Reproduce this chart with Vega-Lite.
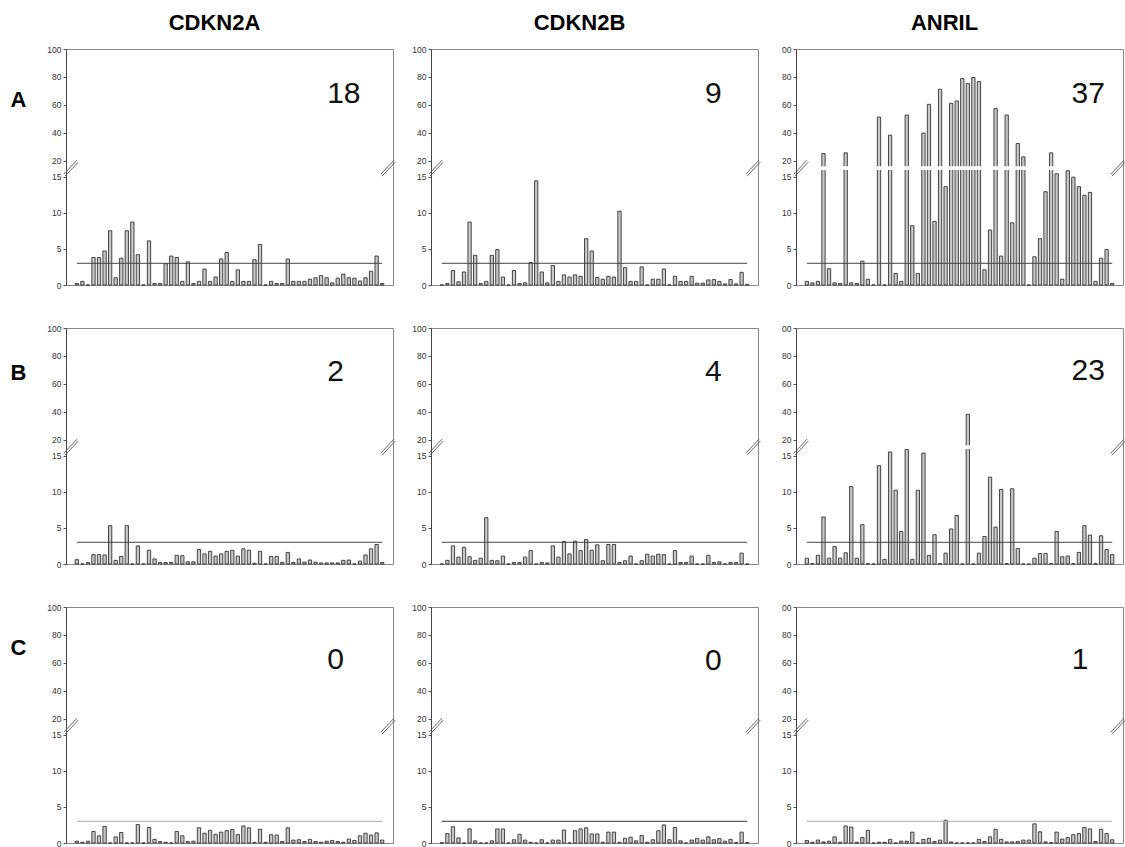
{
"$schema": "https://vega.github.io/schema/vega-lite/v6.json",
"padding": {"left": 9, "top": 11, "right": 0, "bottom": 0},
"background": "white",
"config": {
  "view": {"stroke": "#888", "strokeWidth": 1},
  "font": "Liberation Sans",
  "axisY": {"labelFontSize": 8.5, "labelColor": "#333", "labelFont": "Liberation Sans", "tickSize": 3, "tickColor": "#555", "domainColor": "#444", "grid": false, "labelPadding": 2, "labelOverlap": false},
  "bar": {"width": 3.3, "fill": "#c8c8c8", "stroke": "#333", "strokeWidth": 0.9},
  "rect": {"color": "white", "stroke": null},
  "point": {"color": "#555", "filled": false, "strokeWidth": 0.9, "opacity": 1, "size": 256, "shape": "M-0.9,0.75L0.75,-1M-0.75,1L0.9,-0.75"},
  "text": {"fontSize": 30, "font": "Liberation Sans", "color": "#111", "align": "center", "baseline": "middle"},
  "title": {"fontSize": 22, "fontWeight": "bold", "font": "Liberation Sans", "color": "#000", "offset": 10, "anchor": "middle", "dx": -15}
},
"datasets": {
"A_CDKN2A": [{"i":1,"v":0.2},{"i":2,"v":0.5},{"i":3,"v":0},{"i":4,"v":3.8},{"i":5,"v":3.8},{"i":6,"v":4.7},{"i":7,"v":7.5},{"i":8,"v":1.0},{"i":9,"v":3.7},{"i":10,"v":7.5},{"i":11,"v":8.7},{"i":12,"v":4.2},{"i":13,"v":0},{"i":14,"v":6.1},{"i":15,"v":0.2},{"i":16,"v":0.2},{"i":17,"v":2.95},{"i":18,"v":4.0},{"i":19,"v":3.8},{"i":20,"v":0.5},{"i":21,"v":3.2},{"i":22,"v":0.2},{"i":23,"v":0.5},{"i":24,"v":2.2},{"i":25,"v":0.5},{"i":26,"v":1.1},{"i":27,"v":3.6},{"i":28,"v":4.5},{"i":29,"v":0.5},{"i":30,"v":2.1},{"i":31,"v":0.5},{"i":32,"v":0.5},{"i":33,"v":3.5},{"i":34,"v":5.6},{"i":35,"v":0},{"i":36,"v":0.5},{"i":37,"v":0.2},{"i":38,"v":0.2},{"i":39,"v":3.6},{"i":40,"v":0.5},{"i":41,"v":0.5},{"i":42,"v":0.5},{"i":43,"v":0.8},{"i":44,"v":1.0},{"i":45,"v":1.3},{"i":46,"v":1.0},{"i":47,"v":0.3},{"i":48,"v":0.95},{"i":49,"v":1.5},{"i":50,"v":1.0},{"i":51,"v":0.95},{"i":52,"v":0.55},{"i":53,"v":1.0},{"i":54,"v":1.9},{"i":55,"v":4.0},{"i":56,"v":0.2}],
"A_CDKN2B": [{"i":1,"v":0},{"i":2,"v":0.2},{"i":3,"v":2.0},{"i":4,"v":0.45},{"i":5,"v":1.8},{"i":6,"v":8.7},{"i":7,"v":4.1},{"i":8,"v":0.2},{"i":9,"v":0.5},{"i":10,"v":4.1},{"i":11,"v":4.9},{"i":12,"v":1.1},{"i":13,"v":0},{"i":14,"v":2.0},{"i":15,"v":0.2},{"i":16,"v":0.3},{"i":17,"v":3.1},{"i":18,"v":14.4},{"i":19,"v":1.8},{"i":20,"v":0.3},{"i":21,"v":2.7},{"i":22,"v":0.5},{"i":23,"v":1.4},{"i":24,"v":1.1},{"i":25,"v":1.4},{"i":26,"v":1.2},{"i":27,"v":6.4},{"i":28,"v":4.7},{"i":29,"v":1.05},{"i":30,"v":0.8},{"i":31,"v":1.2},{"i":32,"v":1.1},{"i":33,"v":10.2},{"i":34,"v":2.4},{"i":35,"v":0.5},{"i":36,"v":0.5},{"i":37,"v":2.5},{"i":38,"v":0},{"i":39,"v":0.8},{"i":40,"v":0.8},{"i":41,"v":2.2},{"i":42,"v":0},{"i":43,"v":1.2},{"i":44,"v":0.5},{"i":45,"v":0.5},{"i":46,"v":1.2},{"i":47,"v":0.25},{"i":48,"v":0.25},{"i":49,"v":0.7},{"i":50,"v":0.75},{"i":51,"v":0.5},{"i":52,"v":0.15},{"i":53,"v":0.75},{"i":54,"v":0.15},{"i":55,"v":1.75},{"i":56,"v":0.1}],
"A_ANRIL": [{"i":1,"v":0.5},{"i":2,"v":0.3},{"i":3,"v":0.5},{"i":4,"v":25},{"i":5,"v":2.25},{"i":6,"v":0.3},{"i":7,"v":0.2},{"i":8,"v":25.5},{"i":9,"v":0.3},{"i":10,"v":0.2},{"i":11,"v":3.3},{"i":12,"v":0.8},{"i":13,"v":0},{"i":14,"v":51.2},{"i":15,"v":0},{"i":16,"v":38.2},{"i":17,"v":1.6},{"i":18,"v":0.5},{"i":19,"v":52.6},{"i":20,"v":8.2},{"i":21,"v":1.6},{"i":22,"v":39.7},{"i":23,"v":60.3},{"i":24,"v":8.8},{"i":25,"v":71.1},{"i":26,"v":13.6},{"i":27,"v":61},{"i":28,"v":62.7},{"i":29,"v":78.8},{"i":30,"v":75.2},{"i":31,"v":79.5},{"i":32,"v":76.6},{"i":33,"v":2.1},{"i":34,"v":7.6},{"i":35,"v":57.2},{"i":36,"v":4.0},{"i":37,"v":52.6},{"i":38,"v":8.6},{"i":39,"v":32.2},{"i":40,"v":22.6},{"i":41,"v":0},{"i":42,"v":3.9},{"i":43,"v":6.4},{"i":44,"v":12.9},{"i":45,"v":25.5},{"i":46,"v":15.85},{"i":47,"v":0.8},{"i":48,"v":16.8},{"i":49,"v":14.9},{"i":50,"v":13.6},{"i":51,"v":12.4},{"i":52,"v":12.8},{"i":53,"v":0.5},{"i":54,"v":3.7},{"i":55,"v":4.9},{"i":56,"v":0.2}],
"B_CDKN2A": [{"i":1,"v":0.6},{"i":2,"v":0},{"i":3,"v":0.2},{"i":4,"v":1.3},{"i":5,"v":1.3},{"i":6,"v":1.25},{"i":7,"v":5.3},{"i":8,"v":0.5},{"i":9,"v":1.05},{"i":10,"v":5.3},{"i":11,"v":0},{"i":12,"v":2.5},{"i":13,"v":0},{"i":14,"v":1.9},{"i":15,"v":0.7},{"i":16,"v":0.2},{"i":17,"v":0.2},{"i":18,"v":0.2},{"i":19,"v":1.2},{"i":20,"v":1.15},{"i":21,"v":0.3},{"i":22,"v":0.3},{"i":23,"v":2.0},{"i":24,"v":1.4},{"i":25,"v":1.75},{"i":26,"v":1.1},{"i":27,"v":1.4},{"i":28,"v":1.75},{"i":29,"v":1.9},{"i":30,"v":1.1},{"i":31,"v":2.1},{"i":32,"v":1.9},{"i":33,"v":0.1},{"i":34,"v":1.75},{"i":35,"v":0},{"i":36,"v":1.05},{"i":37,"v":1.05},{"i":38,"v":0.2},{"i":39,"v":1.6},{"i":40,"v":0.2},{"i":41,"v":0.7},{"i":42,"v":0.25},{"i":43,"v":0.55},{"i":44,"v":0.25},{"i":45,"v":0.15},{"i":46,"v":0.15},{"i":47,"v":0.15},{"i":48,"v":0.15},{"i":49,"v":0.5},{"i":50,"v":0.55},{"i":51,"v":0},{"i":52,"v":0.4},{"i":53,"v":1.25},{"i":54,"v":2.1},{"i":55,"v":2.7},{"i":56,"v":0.2}],
"B_CDKN2B": [{"i":1,"v":0},{"i":2,"v":0.5},{"i":3,"v":2.5},{"i":4,"v":0.95},{"i":5,"v":2.3},{"i":6,"v":1.0},{"i":7,"v":0.5},{"i":8,"v":0.8},{"i":9,"v":6.4},{"i":10,"v":0.5},{"i":11,"v":0.45},{"i":12,"v":1.1},{"i":13,"v":0},{"i":14,"v":0.2},{"i":15,"v":0.2},{"i":16,"v":0.95},{"i":17,"v":1.85},{"i":18,"v":0},{"i":19,"v":0.2},{"i":20,"v":0.15},{"i":21,"v":2.5},{"i":22,"v":0.95},{"i":23,"v":3.1},{"i":24,"v":1.4},{"i":25,"v":3.15},{"i":26,"v":1.85},{"i":27,"v":3.4},{"i":28,"v":1.9},{"i":29,"v":2.65},{"i":30,"v":0.45},{"i":31,"v":2.7},{"i":32,"v":2.7},{"i":33,"v":0.2},{"i":34,"v":0.45},{"i":35,"v":1.1},{"i":36,"v":0},{"i":37,"v":0.45},{"i":38,"v":1.35},{"i":39,"v":1.1},{"i":40,"v":1.35},{"i":41,"v":1.3},{"i":42,"v":0},{"i":43,"v":1.85},{"i":44,"v":0.2},{"i":45,"v":0.2},{"i":46,"v":1.1},{"i":47,"v":0},{"i":48,"v":0},{"i":49,"v":1.2},{"i":50,"v":0.2},{"i":51,"v":0.3},{"i":52,"v":0},{"i":53,"v":0.2},{"i":54,"v":0.2},{"i":55,"v":1.5},{"i":56,"v":0}],
"B_ANRIL": [{"i":1,"v":0.8},{"i":2,"v":0.05},{"i":3,"v":1.2},{"i":4,"v":6.5},{"i":5,"v":0.8},{"i":6,"v":2.4},{"i":7,"v":0.8},{"i":8,"v":1.55},{"i":9,"v":10.7},{"i":10,"v":0.8},{"i":11,"v":5.45},{"i":12,"v":0.05},{"i":13,"v":0},{"i":14,"v":13.6},{"i":15,"v":0.65},{"i":16,"v":16.1},{"i":17,"v":10.2},{"i":18,"v":4.5},{"i":19,"v":16.9},{"i":20,"v":0.65},{"i":21,"v":10.2},{"i":22,"v":15.75},{"i":23,"v":1.2},{"i":24,"v":4.05},{"i":25,"v":0.05},{"i":26,"v":1.5},{"i":27,"v":4.85},{"i":28,"v":6.7},{"i":29,"v":0},{"i":30,"v":38.1},{"i":31,"v":0},{"i":32,"v":1.5},{"i":33,"v":3.8},{"i":34,"v":12.0},{"i":35,"v":5.1},{"i":36,"v":10.3},{"i":37,"v":0.05},{"i":38,"v":10.4},{"i":39,"v":2.15},{"i":40,"v":0},{"i":41,"v":0},{"i":42,"v":0.8},{"i":43,"v":1.45},{"i":44,"v":1.45},{"i":45,"v":0.05},{"i":46,"v":4.5},{"i":47,"v":1.0},{"i":48,"v":1.1},{"i":49,"v":0.05},{"i":50,"v":1.6},{"i":51,"v":5.3},{"i":52,"v":4.0},{"i":53,"v":0.05},{"i":54,"v":3.9},{"i":55,"v":2.0},{"i":56,"v":1.3}],
"C_CDKN2A": [{"i":1,"v":0.25},{"i":2,"v":0.1},{"i":3,"v":0.25},{"i":4,"v":1.6},{"i":5,"v":1.0},{"i":6,"v":2.3},{"i":7,"v":0},{"i":8,"v":0.85},{"i":9,"v":1.45},{"i":10,"v":0},{"i":11,"v":0},{"i":12,"v":2.55},{"i":13,"v":0},{"i":14,"v":2.15},{"i":15,"v":0.5},{"i":16,"v":0.2},{"i":17,"v":0.1},{"i":18,"v":0},{"i":19,"v":1.6},{"i":20,"v":1.0},{"i":21,"v":0.2},{"i":22,"v":0.25},{"i":23,"v":2.1},{"i":24,"v":1.35},{"i":25,"v":1.75},{"i":26,"v":1.2},{"i":27,"v":1.5},{"i":28,"v":1.7},{"i":29,"v":1.85},{"i":30,"v":1.15},{"i":31,"v":2.35},{"i":32,"v":2.1},{"i":33,"v":0.1},{"i":34,"v":1.9},{"i":35,"v":0.1},{"i":36,"v":1.15},{"i":37,"v":1.1},{"i":38,"v":0.2},{"i":39,"v":2.1},{"i":40,"v":0.4},{"i":41,"v":0.45},{"i":42,"v":0.2},{"i":43,"v":0.5},{"i":44,"v":0.2},{"i":45,"v":0.1},{"i":46,"v":0.25},{"i":47,"v":0.35},{"i":48,"v":0.2},{"i":49,"v":0.1},{"i":50,"v":0.55},{"i":51,"v":0.35},{"i":52,"v":1.0},{"i":53,"v":1.35},{"i":54,"v":1.1},{"i":55,"v":1.4},{"i":56,"v":0.4}],
"C_CDKN2B": [{"i":1,"v":0.05},{"i":2,"v":1.3},{"i":3,"v":2.25},{"i":4,"v":0.7},{"i":5,"v":0},{"i":6,"v":1.95},{"i":7,"v":0.3},{"i":8,"v":0},{"i":9,"v":0},{"i":10,"v":0.3},{"i":11,"v":1.95},{"i":12,"v":1.95},{"i":13,"v":0},{"i":14,"v":0.45},{"i":15,"v":1.2},{"i":16,"v":0.4},{"i":17,"v":0.1},{"i":18,"v":0},{"i":19,"v":0.45},{"i":20,"v":0},{"i":21,"v":0.4},{"i":22,"v":0.4},{"i":23,"v":1.8},{"i":24,"v":0},{"i":25,"v":1.7},{"i":26,"v":1.95},{"i":27,"v":2.1},{"i":28,"v":1.25},{"i":29,"v":1.25},{"i":30,"v":0.1},{"i":31,"v":1.5},{"i":32,"v":1.5},{"i":33,"v":0.1},{"i":34,"v":0.65},{"i":35,"v":0.8},{"i":36,"v":0.3},{"i":37,"v":1.05},{"i":38,"v":0.1},{"i":39,"v":0.45},{"i":40,"v":1.7},{"i":41,"v":2.5},{"i":42,"v":0.45},{"i":43,"v":2.15},{"i":44,"v":0.3},{"i":45,"v":0},{"i":46,"v":0.4},{"i":47,"v":0.6},{"i":48,"v":0.4},{"i":49,"v":0.85},{"i":50,"v":0.45},{"i":51,"v":0.6},{"i":52,"v":0.25},{"i":53,"v":0.5},{"i":54,"v":0.05},{"i":55,"v":1.5},{"i":56,"v":0.05}],
"C_ANRIL": [{"i":1,"v":0.35},{"i":2,"v":0.1},{"i":3,"v":0.4},{"i":4,"v":0.15},{"i":5,"v":0.25},{"i":6,"v":0.85},{"i":7,"v":0.1},{"i":8,"v":2.35},{"i":9,"v":2.2},{"i":10,"v":0.1},{"i":11,"v":0.75},{"i":12,"v":1.75},{"i":13,"v":0},{"i":14,"v":0.1},{"i":15,"v":0.1},{"i":16,"v":0.5},{"i":17,"v":0},{"i":18,"v":0.25},{"i":19,"v":0.25},{"i":20,"v":1.5},{"i":21,"v":0},{"i":22,"v":0.5},{"i":23,"v":0.65},{"i":24,"v":0.2},{"i":25,"v":0.4},{"i":26,"v":3.15},{"i":27,"v":0.15},{"i":28,"v":0},{"i":29,"v":0},{"i":30,"v":0},{"i":31,"v":0},{"i":32,"v":0.5},{"i":33,"v":0.2},{"i":34,"v":0.85},{"i":35,"v":1.9},{"i":36,"v":0.5},{"i":37,"v":0.15},{"i":38,"v":0.15},{"i":39,"v":0.2},{"i":40,"v":0.4},{"i":41,"v":0.4},{"i":42,"v":2.65},{"i":43,"v":1.55},{"i":44,"v":0.15},{"i":45,"v":0.05},{"i":46,"v":1.5},{"i":47,"v":0.55},{"i":48,"v":0.75},{"i":49,"v":1.15},{"i":50,"v":1.3},{"i":51,"v":2.15},{"i":52,"v":1.95},{"i":53,"v":0.2},{"i":54,"v":1.9},{"i":55,"v":1.3},{"i":56,"v":0.45}]
},
"concat": [
{"width": 327, "height": 236, "title": {"text": "CDKN2A"},
 "layer": [
  {"data": {"name": "A_CDKN2A"}, "mark": {"type": "bar", "orient": "vertical"},
   "encoding": {"x": {"field": "i", "type": "quantitative", "scale": {"domain": [-0.05, 57.05], "nice": false, "zero": false}, "axis": null},
    "y": {"field": "v", "type": "quantitative", "scale": {"domain": [0, 15, 20, 100], "range": [236, 127.5, 111.5, 0], "nice": false, "zero": false},
     "axis": {"values": [0, 5, 10, 15, 20, 40, 60, 80, 100], "tickCount": 50, "labelOverlap": false, "title": "A", "titleAngle": 0, "titleFontSize": 22, "titleFontWeight": "bold", "titleFont": "Liberation Sans", "titleColor": "#000", "titleX": -48, "titleY": 50, "titleAlign": "center", "titleBaseline": "middle"}}}},
  {"data": {"values": [{}]}, "mark": "rect", "encoding": {"x": {"datum": -0.4}, "x2": {"datum": 57.5}, "y": {"datum": 17.0}, "y2": {"datum": 18.2}}},
  {"data": {"values": [{}]}, "mark": {"type": "rule", "color": "#444"}, "encoding": {"x": {"datum": 1}, "x2": {"datum": 56}, "y": {"datum": 3}}},
  {"data": {"values": [{}]}, "mark": "point", "encoding": {"x": {"datum": -0.05}, "y": {"datum": 17.6}}},
  {"data": {"values": [{}]}, "mark": "point", "encoding": {"x": {"datum": 57.05}, "y": {"datum": 17.6}}},
  {"data": {"values": [{"n": "18"}]}, "mark": "text", "encoding": {"text": {"field": "n"}, "x": {"datum": 49.1}, "y": {"datum": 68}}}
 ]},
{"width": 327, "height": 236, "title": {"text": "CDKN2B"},
 "layer": [
  {"data": {"name": "A_CDKN2B"}, "mark": {"type": "bar", "orient": "vertical"},
   "encoding": {"x": {"field": "i", "type": "quantitative", "scale": {"domain": [-0.05, 57.05], "nice": false, "zero": false}, "axis": null},
    "y": {"field": "v", "type": "quantitative", "scale": {"domain": [0, 15, 20, 100], "range": [236, 127.5, 111.5, 0], "nice": false, "zero": false},
     "axis": {"values": [0, 5, 10, 15, 20, 40, 60, 80, 100], "tickCount": 50, "labelOverlap": false, "title": null}}}},
  {"data": {"values": [{}]}, "mark": "rect", "encoding": {"x": {"datum": -0.4}, "x2": {"datum": 57.5}, "y": {"datum": 17.0}, "y2": {"datum": 18.2}}},
  {"data": {"values": [{}]}, "mark": {"type": "rule", "color": "#444"}, "encoding": {"x": {"datum": 1}, "x2": {"datum": 56}, "y": {"datum": 3}}},
  {"data": {"values": [{}]}, "mark": "point", "encoding": {"x": {"datum": -0.05}, "y": {"datum": 17.6}}},
  {"data": {"values": [{}]}, "mark": "point", "encoding": {"x": {"datum": 57.05}, "y": {"datum": 17.6}}},
  {"data": {"values": [{"n": "9"}]}, "mark": "text", "encoding": {"text": {"field": "n"}, "x": {"datum": 49.9}, "y": {"datum": 68}}}
 ]},
{"width": 327, "height": 236, "title": {"text": "ANRIL"},
 "layer": [
  {"data": {"name": "A_ANRIL"}, "mark": {"type": "bar", "orient": "vertical"},
   "encoding": {"x": {"field": "i", "type": "quantitative", "scale": {"domain": [-0.05, 57.05], "nice": false, "zero": false}, "axis": null},
    "y": {"field": "v", "type": "quantitative", "scale": {"domain": [0, 15, 20, 100], "range": [236, 127.5, 111.5, 0], "nice": false, "zero": false},
     "axis": {"values": [0, 5, 10, 15, 20, 40, 60, 80, 100], "tickCount": 50, "labelOverlap": false, "title": null, "labelExpr": "datum.value == 100 ? '00' : datum.label"}}}},
  {"data": {"values": [{}]}, "mark": "rect", "encoding": {"x": {"datum": -0.4}, "x2": {"datum": 57.5}, "y": {"datum": 17.0}, "y2": {"datum": 18.2}}},
  {"data": {"values": [{}]}, "mark": {"type": "rule", "color": "#444"}, "encoding": {"x": {"datum": 1}, "x2": {"datum": 56}, "y": {"datum": 3}}},
  {"data": {"values": [{}]}, "mark": "point", "encoding": {"x": {"datum": -0.05}, "y": {"datum": 17.6}}},
  {"data": {"values": [{}]}, "mark": "point", "encoding": {"x": {"datum": 57.05}, "y": {"datum": 17.6}}},
  {"data": {"values": [{"n": "37"}]}, "mark": "text", "encoding": {"text": {"field": "n"}, "x": {"datum": 51.7}, "y": {"datum": 68}}}
 ]},
{"width": 327, "height": 236,
 "layer": [
  {"data": {"name": "B_CDKN2A"}, "mark": {"type": "bar", "orient": "vertical"},
   "encoding": {"x": {"field": "i", "type": "quantitative", "scale": {"domain": [-0.05, 57.05], "nice": false, "zero": false}, "axis": null},
    "y": {"field": "v", "type": "quantitative", "scale": {"domain": [0, 15, 20, 100], "range": [236, 127.5, 111.5, 0], "nice": false, "zero": false},
     "axis": {"values": [0, 5, 10, 15, 20, 40, 60, 80, 100], "tickCount": 50, "labelOverlap": false, "title": "B", "titleAngle": 0, "titleFontSize": 22, "titleFontWeight": "bold", "titleFont": "Liberation Sans", "titleColor": "#000", "titleX": -48, "titleY": 44, "titleAlign": "center", "titleBaseline": "middle"}}}},
  {"data": {"values": [{}]}, "mark": "rect", "encoding": {"x": {"datum": -0.4}, "x2": {"datum": 57.5}, "y": {"datum": 17.0}, "y2": {"datum": 18.2}}},
  {"data": {"values": [{}]}, "mark": {"type": "rule", "color": "#444"}, "encoding": {"x": {"datum": 1}, "x2": {"datum": 56}, "y": {"datum": 3}}},
  {"data": {"values": [{}]}, "mark": "point", "encoding": {"x": {"datum": -0.05}, "y": {"datum": 17.6}}},
  {"data": {"values": [{}]}, "mark": "point", "encoding": {"x": {"datum": 57.05}, "y": {"datum": 17.6}}},
  {"data": {"values": [{"n": "2"}]}, "mark": "text", "encoding": {"text": {"field": "n"}, "x": {"datum": 47.6}, "y": {"datum": 68.5}}}
 ]},
{"width": 327, "height": 236,
 "layer": [
  {"data": {"name": "B_CDKN2B"}, "mark": {"type": "bar", "orient": "vertical"},
   "encoding": {"x": {"field": "i", "type": "quantitative", "scale": {"domain": [-0.05, 57.05], "nice": false, "zero": false}, "axis": null},
    "y": {"field": "v", "type": "quantitative", "scale": {"domain": [0, 15, 20, 100], "range": [236, 127.5, 111.5, 0], "nice": false, "zero": false},
     "axis": {"values": [0, 5, 10, 15, 20, 40, 60, 80, 100], "tickCount": 50, "labelOverlap": false, "title": null}}}},
  {"data": {"values": [{}]}, "mark": "rect", "encoding": {"x": {"datum": -0.4}, "x2": {"datum": 57.5}, "y": {"datum": 17.0}, "y2": {"datum": 18.2}}},
  {"data": {"values": [{}]}, "mark": {"type": "rule", "color": "#444"}, "encoding": {"x": {"datum": 1}, "x2": {"datum": 56}, "y": {"datum": 3}}},
  {"data": {"values": [{}]}, "mark": "point", "encoding": {"x": {"datum": -0.05}, "y": {"datum": 17.6}}},
  {"data": {"values": [{}]}, "mark": "point", "encoding": {"x": {"datum": 57.05}, "y": {"datum": 17.6}}},
  {"data": {"values": [{"n": "4"}]}, "mark": "text", "encoding": {"text": {"field": "n"}, "x": {"datum": 49.9}, "y": {"datum": 68.5}}}
 ]},
{"width": 327, "height": 236,
 "layer": [
  {"data": {"name": "B_ANRIL"}, "mark": {"type": "bar", "orient": "vertical"},
   "encoding": {"x": {"field": "i", "type": "quantitative", "scale": {"domain": [-0.05, 57.05], "nice": false, "zero": false}, "axis": null},
    "y": {"field": "v", "type": "quantitative", "scale": {"domain": [0, 15, 20, 100], "range": [236, 127.5, 111.5, 0], "nice": false, "zero": false},
     "axis": {"values": [0, 5, 10, 15, 20, 40, 60, 80, 100], "tickCount": 50, "labelOverlap": false, "title": null, "labelExpr": "datum.value == 100 ? '00' : datum.label"}}}},
  {"data": {"values": [{}]}, "mark": "rect", "encoding": {"x": {"datum": -0.4}, "x2": {"datum": 57.5}, "y": {"datum": 17.0}, "y2": {"datum": 18.2}}},
  {"data": {"values": [{}]}, "mark": {"type": "rule", "color": "#444"}, "encoding": {"x": {"datum": 1}, "x2": {"datum": 56}, "y": {"datum": 3}}},
  {"data": {"values": [{}]}, "mark": "point", "encoding": {"x": {"datum": -0.05}, "y": {"datum": 17.6}}},
  {"data": {"values": [{}]}, "mark": "point", "encoding": {"x": {"datum": 57.05}, "y": {"datum": 17.6}}},
  {"data": {"values": [{"n": "23"}]}, "mark": "text", "encoding": {"text": {"field": "n"}, "x": {"datum": 51.7}, "y": {"datum": 69}}}
 ]},
{"width": 327, "height": 236,
 "layer": [
  {"data": {"name": "C_CDKN2A"}, "mark": {"type": "bar", "orient": "vertical"},
   "encoding": {"x": {"field": "i", "type": "quantitative", "scale": {"domain": [-0.05, 57.05], "nice": false, "zero": false}, "axis": null},
    "y": {"field": "v", "type": "quantitative", "scale": {"domain": [0, 15, 20, 100], "range": [236, 127.5, 111.5, 0], "nice": false, "zero": false},
     "axis": {"values": [0, 5, 10, 15, 20, 40, 60, 80, 100], "tickCount": 50, "labelOverlap": false, "title": "C", "titleAngle": 0, "titleFontSize": 22, "titleFontWeight": "bold", "titleFont": "Liberation Sans", "titleColor": "#000", "titleX": -48, "titleY": 40, "titleAlign": "center", "titleBaseline": "middle"}}}},
  {"data": {"values": [{}]}, "mark": "rect", "encoding": {"x": {"datum": -0.4}, "x2": {"datum": 57.5}, "y": {"datum": 17.0}, "y2": {"datum": 18.2}}},
  {"data": {"values": [{}]}, "mark": {"type": "rule", "color": "#aaa"}, "encoding": {"x": {"datum": 1}, "x2": {"datum": 56}, "y": {"datum": 3}}},
  {"data": {"values": [{}]}, "mark": "point", "encoding": {"x": {"datum": -0.05}, "y": {"datum": 17.6}}},
  {"data": {"values": [{}]}, "mark": "point", "encoding": {"x": {"datum": 57.05}, "y": {"datum": 17.6}}},
  {"data": {"values": [{"n": "0"}]}, "mark": "text", "encoding": {"text": {"field": "n"}, "x": {"datum": 47.6}, "y": {"datum": 62}}}
 ]},
{"width": 327, "height": 236,
 "layer": [
  {"data": {"name": "C_CDKN2B"}, "mark": {"type": "bar", "orient": "vertical"},
   "encoding": {"x": {"field": "i", "type": "quantitative", "scale": {"domain": [-0.05, 57.05], "nice": false, "zero": false}, "axis": null},
    "y": {"field": "v", "type": "quantitative", "scale": {"domain": [0, 15, 20, 100], "range": [236, 127.5, 111.5, 0], "nice": false, "zero": false},
     "axis": {"values": [0, 5, 10, 15, 20, 40, 60, 80, 100], "tickCount": 50, "labelOverlap": false, "title": null}}}},
  {"data": {"values": [{}]}, "mark": "rect", "encoding": {"x": {"datum": -0.4}, "x2": {"datum": 57.5}, "y": {"datum": 17.0}, "y2": {"datum": 18.2}}},
  {"data": {"values": [{}]}, "mark": {"type": "rule", "color": "#333"}, "encoding": {"x": {"datum": 1}, "x2": {"datum": 56}, "y": {"datum": 3}}},
  {"data": {"values": [{}]}, "mark": "point", "encoding": {"x": {"datum": -0.05}, "y": {"datum": 17.6}}},
  {"data": {"values": [{}]}, "mark": "point", "encoding": {"x": {"datum": 57.05}, "y": {"datum": 17.6}}},
  {"data": {"values": [{"n": "0"}]}, "mark": "text", "encoding": {"text": {"field": "n"}, "x": {"datum": 49.9}, "y": {"datum": 61.5}}}
 ]},
{"width": 327, "height": 236,
 "layer": [
  {"data": {"name": "C_ANRIL"}, "mark": {"type": "bar", "orient": "vertical"},
   "encoding": {"x": {"field": "i", "type": "quantitative", "scale": {"domain": [-0.05, 57.05], "nice": false, "zero": false}, "axis": null},
    "y": {"field": "v", "type": "quantitative", "scale": {"domain": [0, 15, 20, 100], "range": [236, 127.5, 111.5, 0], "nice": false, "zero": false},
     "axis": {"values": [0, 5, 10, 15, 20, 40, 60, 80, 100], "tickCount": 50, "labelOverlap": false, "title": null, "labelExpr": "datum.value == 100 ? '00' : datum.label"}}}},
  {"data": {"values": [{}]}, "mark": "rect", "encoding": {"x": {"datum": -0.4}, "x2": {"datum": 57.5}, "y": {"datum": 17.0}, "y2": {"datum": 18.2}}},
  {"data": {"values": [{}]}, "mark": {"type": "rule", "color": "#aaa"}, "encoding": {"x": {"datum": 1}, "x2": {"datum": 56}, "y": {"datum": 3}}},
  {"data": {"values": [{}]}, "mark": "point", "encoding": {"x": {"datum": -0.05}, "y": {"datum": 17.6}}},
  {"data": {"values": [{}]}, "mark": "point", "encoding": {"x": {"datum": 57.05}, "y": {"datum": 17.6}}},
  {"data": {"values": [{"n": "1"}]}, "mark": "text", "encoding": {"text": {"field": "n"}, "x": {"datum": 50.2}, "y": {"datum": 62}}}
 ]}
],
"columns": 3,
"bounds": "flush",
"spacing": {"row": 43, "column": 38}
}
